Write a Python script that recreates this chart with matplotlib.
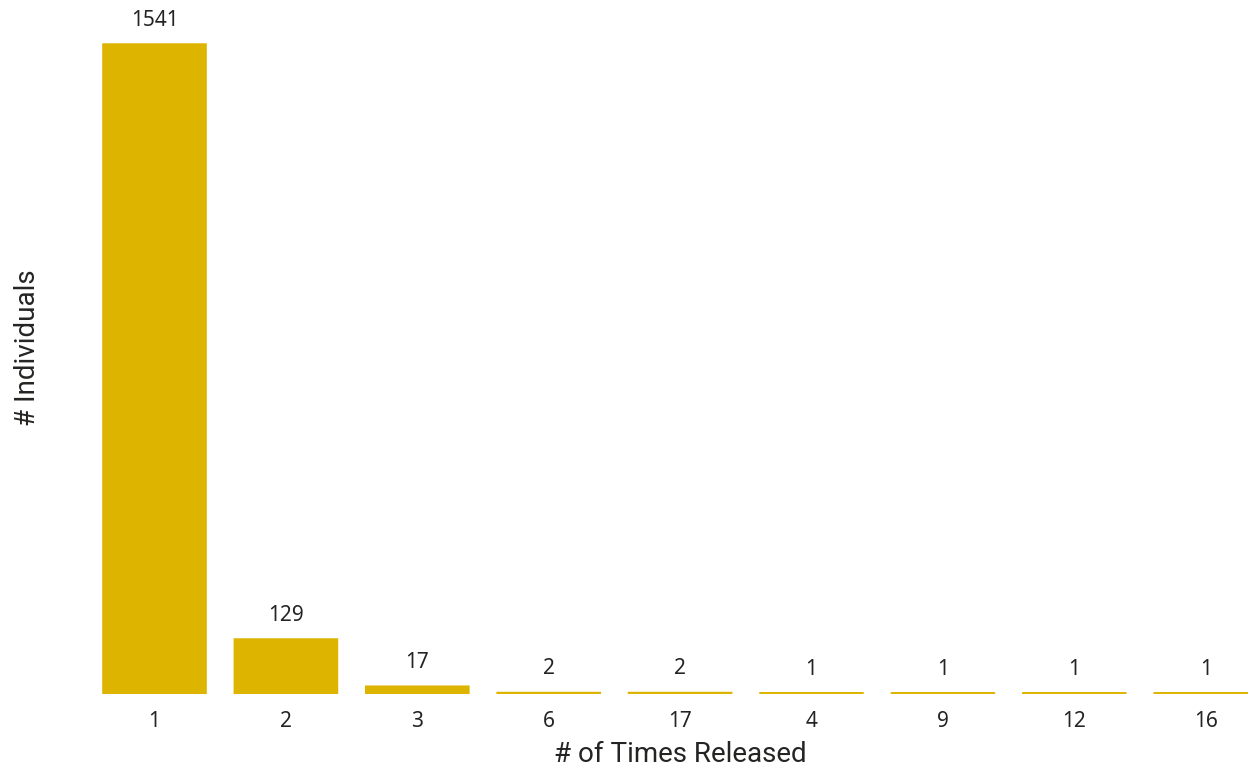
import matplotlib
matplotlib.use('Agg')
import matplotlib.pyplot as plt

# data
times_released = ['1', '2', '3', '6', '17', '4', '9', '12', '16']
individuals = [1541, 129, 17, 2, 2, 1, 1, 1, 1]

bar_color = '#DDB400'
text_color = '#252423'


def plotting():
    fig = plt.figure(figsize=(12.48, 7.69), dpi=100)
    # axes placed in pixel terms: left 88.8, right 1248, bottom 694, top ~20
    ax = fig.add_axes([88.8 / 1248, 1 - 694 / 769, (1248 - 88.8) / 1248, (694 - 19.8) / 769])
    x = list(range(len(times_released)))
    bars = ax.bar(x, individuals, width=0.775, color=bar_color, edgecolor=bar_color,
                  linewidth=2.0, joinstyle='miter')
    for b in bars:
        b.set_snap(False)
    ax.set_xlim(-0.5, -0.5 + (1248 - 88.8) / 131.4)
    ax.set_ylim(0, 1600)

    for xi, v in zip(x, individuals):
        ax.annotate(str(v), (xi, v), xytext=(0, 10), textcoords='offset points',
                    ha='center', va='bottom', fontsize=15, color=text_color,
                    family='Noto Sans', clip_on=False)

    ax.set_xticks(x)
    ax.set_xticklabels(times_released, fontsize=15, color=text_color, family='Noto Sans')
    ax.tick_params(axis='x', length=0, pad=12)
    ax.set_yticks([])
    for s in ax.spines.values():
        s.set_visible(False)

    fig.text(680 / 1248, 1 - 755 / 769, '# of Times Released', ha='center', va='center',
             fontsize=20, color=text_color, family='Roboto')
    fig.text(28 / 1248, 1 - 348 / 769, '# Individuals', ha='center', va='center',
             rotation=90, fontsize=20, color=text_color, family='Roboto')

    fig.savefig('out.png', dpi=100)


def main():
    plotting()


main()
